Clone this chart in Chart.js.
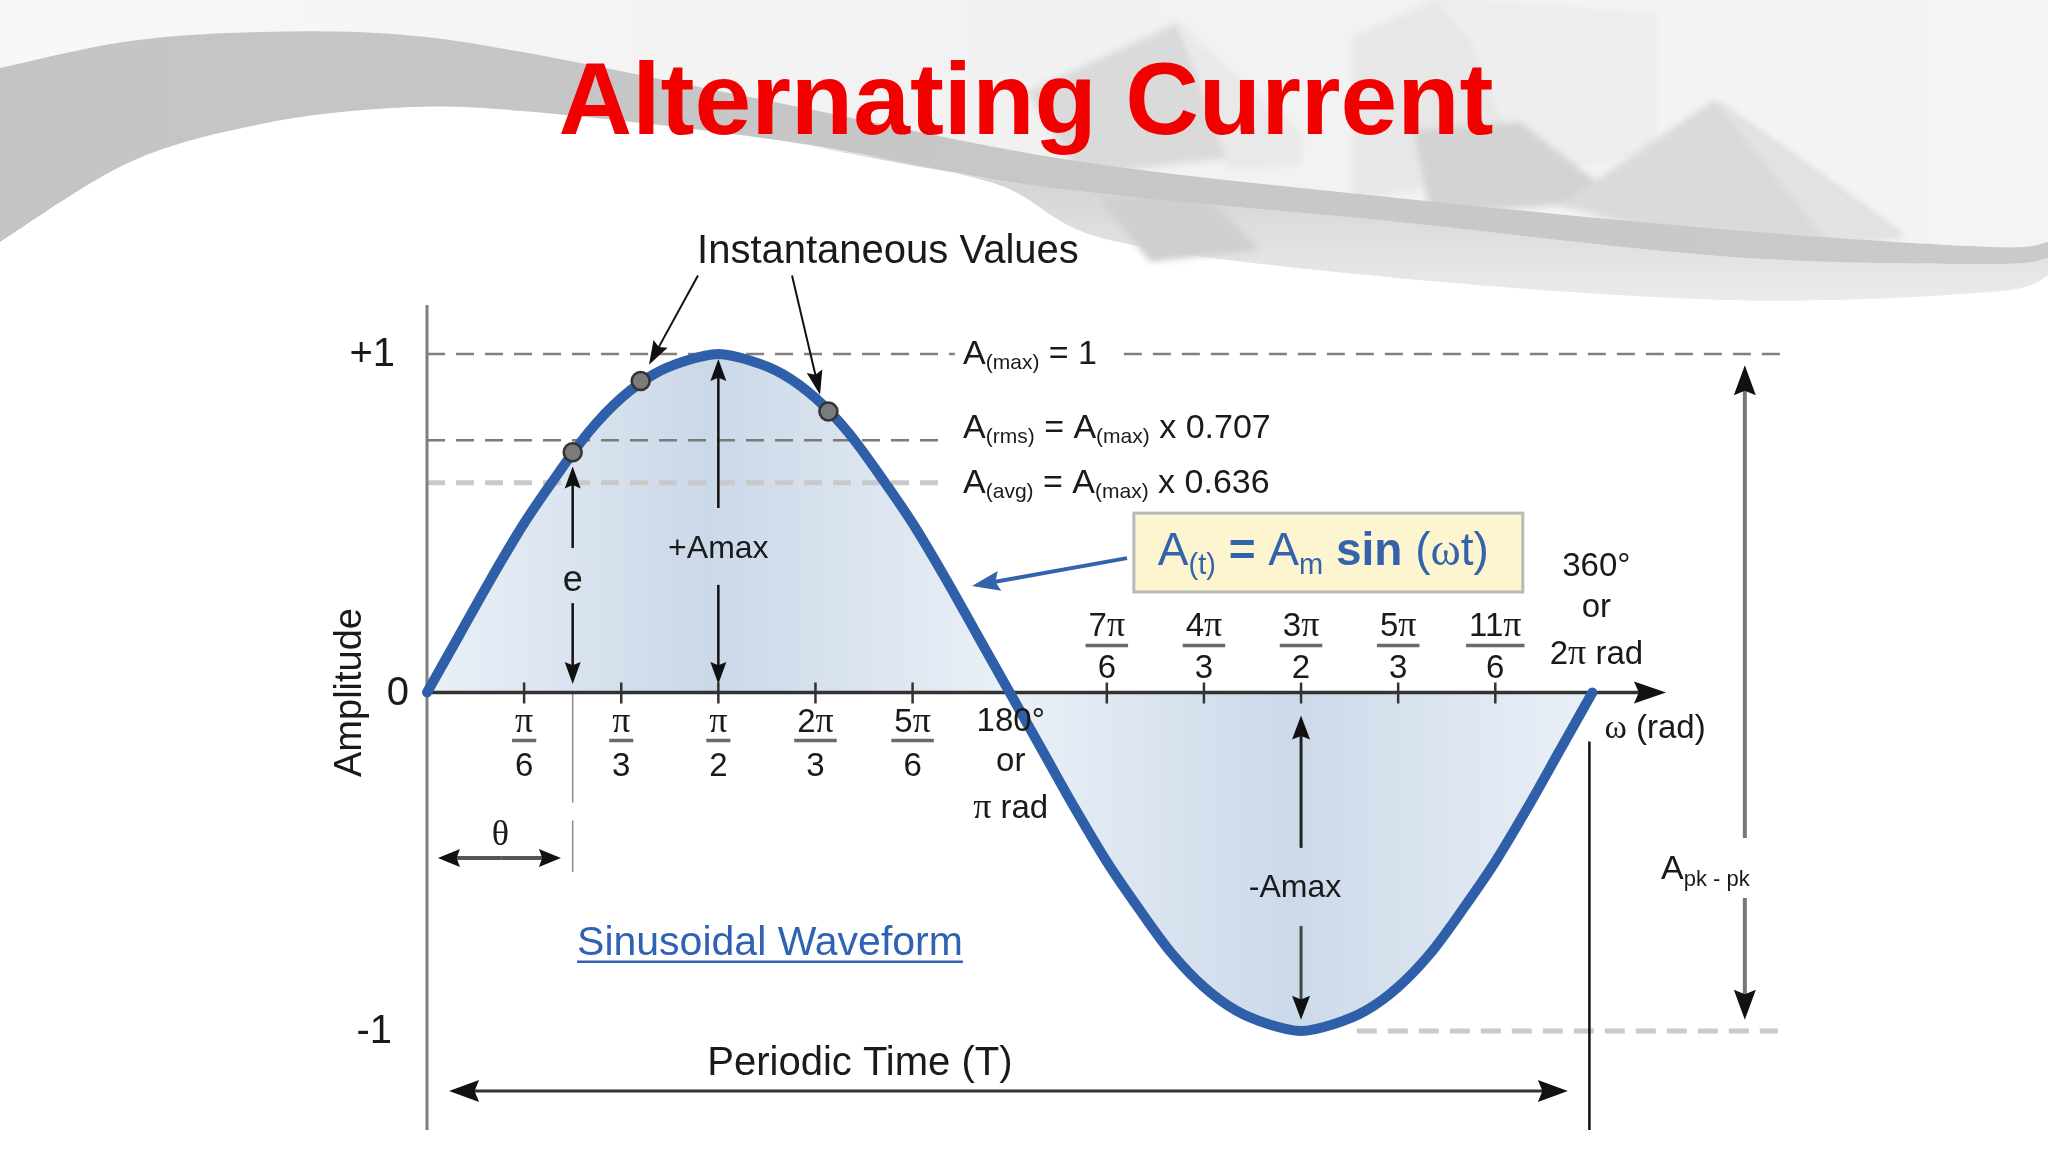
<!DOCTYPE html>
<html>
<head>
<meta charset="utf-8">
<script src="https://cdn.jsdelivr.net/npm/chart.js@4.4.1/dist/chart.umd.min.js"></script>
<style>
html,body{margin:0;padding:0;background:#fff;}
#wrap{width:2048px;height:1152px;position:relative;}
</style>
</head>
<body>
<div id="wrap"><canvas id="c" width="2048" height="1152"></canvas></div>
<script>
// ---------- data ----------
const angleDeg = [0,10,20,30,40,50,60,70,80,90,100,110,120,130,140,150,160,170,180,190,200,210,220,230,240,250,260,270,280,290,300,310,320,330,340,350,360];
const amplitude = [0,0.17,0.34,0.5,0.64,0.77,0.87,0.94,0.98,1,0.98,0.94,0.87,0.77,0.64,0.5,0.34,0.17,0,-0.17,-0.34,-0.5,-0.64,-0.77,-0.87,-0.94,-0.98,-1,-0.98,-0.94,-0.87,-0.77,-0.64,-0.5,-0.34,-0.17,0];
const instantDeg = [45, 66, 124];
const instantAmp = [0.71, 0.92, 0.83];
const refLevels = [1, 0.745, 0.62];          // A(max), A(rms), A(avg) guide lines
const tickSixths = [1,2,3,4,5,7,8,9,10,11];  // tick positions in multiples of pi/6
const tickNum = ['π','π','π','2π','5π','7π','4π','3π','5π','11π'];
const tickDen = ['6','3','2','3','6','6','3','2','3','6'];
const yTickValues = [1, 0, -1];
const yTickLabels = ['+1', '0', '-1'];
const titleText = 'Alternating Current';

// ---------- helpers ----------
const SANS = '"Liberation Sans", Arial, sans-serif';
const SERIF = '"Liberation Serif", "Times New Roman", serif';
const rad = d => d * Math.PI / 180;
function fnt(p){ return (p.b ? 'bold ' : '') + p.s + 'px ' + (p.f || SANS); }
function richWidth(ctx, parts){ let w = 0; for (const p of parts){ ctx.font = fnt(p); w += ctx.measureText(p.t).width; } return w; }
function drawRich(ctx, x, y, parts, color, align){
  const w = richWidth(ctx, parts);
  let cx = align === 'center' ? x - w/2 : (align === 'right' ? x - w : x);
  ctx.fillStyle = color; ctx.textAlign = 'left'; ctx.textBaseline = 'alphabetic';
  for (const p of parts){ ctx.font = fnt(p); ctx.fillText(p.t, cx, y + (p.dy || 0)); cx += ctx.measureText(p.t).width; }
  return w;
}
function arrow(ctx, x1, y1, x2, y2, o){
  const a = Math.atan2(y2 - y1, x2 - x1), hl = o.hl || 20, hw = o.hw || 8;
  const c = Math.cos(a), s = Math.sin(a);
  ctx.save();
  ctx.setLineDash([]);
  ctx.strokeStyle = o.color; ctx.lineWidth = o.lw || 2; ctx.lineCap = 'butt';
  ctx.beginPath(); ctx.moveTo(x1, y1); ctx.lineTo(x2 - c*hl*0.7, y2 - s*hl*0.7); ctx.stroke();
  ctx.fillStyle = o.head || o.color;
  ctx.beginPath(); ctx.moveTo(x2, y2);
  ctx.lineTo(x2 - c*hl - s*hw, y2 - s*hl + c*hw);
  ctx.lineTo(x2 - c*hl*0.85, y2 - s*hl*0.85);
  ctx.lineTo(x2 - c*hl + s*hw, y2 - s*hl - c*hw);
  ctx.closePath(); ctx.fill();
  ctx.restore();
}
function dashed(ctx, x1, y1, x2, y2, color, lw, dash){
  ctx.save(); ctx.strokeStyle = color; ctx.lineWidth = lw; ctx.setLineDash(dash);
  ctx.beginPath(); ctx.moveTo(x1, y1); ctx.lineTo(x2, y2); ctx.stroke(); ctx.restore();
}
function smooth(ctx, pts, move){
  if (move) ctx.moveTo(pts[0][0], pts[0][1]); else ctx.lineTo(pts[0][0], pts[0][1]);
  for (let i = 0; i < pts.length - 1; i++){
    const p0 = pts[Math.max(i-1,0)], p1 = pts[i], p2 = pts[i+1], p3 = pts[Math.min(i+2, pts.length-1)];
    ctx.bezierCurveTo(p1[0]+(p2[0]-p0[0])/6, p1[1]+(p2[1]-p0[1])/6, p2[0]-(p3[0]-p1[0])/6, p2[1]-(p3[1]-p1[1])/6, p2[0], p2[1]);
  }
}

// ---------- background (slide artwork) ----------
const backgroundPlugin = {
  id: 'slideBg',
  beforeDraw(chart){
    const ctx = chart.ctx;
    ctx.save();
    ctx.fillStyle = '#ffffff'; ctx.fillRect(0, 0, 2048, 1152);
    const white = [[0,242],[130,162],[261,124],[392,108],[522,111],[784,141],[990,182],[1110,240],[1388,277],[1732,300],[1990,292],[2048,276]];
    const lower = [[0,242],[130,162],[261,124],[392,108],[522,111],[784,141],[1045,187],[1388,221],[1732,257],[1990,264],[2048,258]];
    const upper = [[0,68],[130,41],[261,32],[392,34],[522,52],[784,104],[1070,160],[1388,197],[1732,230],[1990,247],[2048,242]];
    // light upper region (down to the white boundary)
    const g = ctx.createLinearGradient(0, 0, 2048, 0);
    g.addColorStop(0, '#f8f8f8'); g.addColorStop(0.5, '#f1f1f1'); g.addColorStop(1, '#f4f4f4');
    ctx.beginPath(); ctx.moveTo(0,0); ctx.lineTo(2048,0);
    smooth(ctx, white.slice().reverse(), false); ctx.closePath();
    ctx.fillStyle = g; ctx.fill();
    // lighter grey zone below band (right side)
    const gz = ctx.createLinearGradient(0, 190, 0, 300);
    gz.addColorStop(0, '#d6d6d6'); gz.addColorStop(1, '#ebebeb');
    ctx.beginPath(); smooth(ctx, lower.slice(5), true); smooth(ctx, white.slice(5).reverse(), false); ctx.closePath();
    ctx.fillStyle = gz; ctx.fill();
    // soft 3D shapes
    ctx.filter = 'blur(3px)';
    const poly = (pts, col) => { ctx.beginPath(); ctx.moveTo(pts[0][0], pts[0][1]); for (const p of pts.slice(1)) ctx.lineTo(p[0], p[1]); ctx.closePath(); ctx.fillStyle = col; ctx.fill(); };
    poly([[1027,92],[1177,23],[1230,110],[1300,150],[1080,175]], '#dadada');
    poly([[1177,23],[1302,133],[1300,165],[1230,170]], '#e9e9e9');
    poly([[1353,37],[1435,0],[1654,17],[1654,150],[1353,200]], '#e7e7e7');
    poly([[1435,0],[1654,17],[1654,150],[1520,170],[1470,40]], '#eeeeee');
    poly([[1414,130],[1520,122],[1620,200],[1430,215]], '#d3d3d3');
    poly([[1560,205],[1714,100],[1800,160],[1904,236],[1700,245]], '#dadada');
    poly([[1714,100],[1800,160],[1904,236],[1830,245]], '#e2e2e2');
    poly([[1100,200],[1200,190],[1260,250],[1150,262]], '#cfcfcf');
    ctx.filter = 'none';
    // grey swoosh band
    const gb = ctx.createLinearGradient(0, 0, 2048, 0);
    gb.addColorStop(0, '#c4c4c4'); gb.addColorStop(0.5, '#c7c7c7'); gb.addColorStop(1, '#cacaca');
    ctx.beginPath(); smooth(ctx, upper, true); smooth(ctx, lower.slice().reverse(), false); ctx.closePath();
    ctx.fillStyle = gb; ctx.fill();
    // title
    ctx.font = 'bold 102px ' + SANS;
    ctx.fillStyle = '#f20000'; ctx.textAlign = 'center'; ctx.textBaseline = 'alphabetic';
    ctx.fillText(titleText, 1026, 134);
    ctx.restore();
  }
};

// ---------- axes / guides drawn under the curve line ----------
const guidePlugin = {
  id: 'guides',
  beforeDatasetDraw(chart, args){
    if (args.index !== 1) return;
    const ctx = chart.ctx, xs = chart.scales.x, ys = chart.scales.y;
    const X = v => xs.getPixelForValue(v), Y = v => ys.getPixelForValue(v);
    ctx.save();
    dashed(ctx, X(0), Y(refLevels[0]), X(2.846), Y(refLevels[0]), '#808080', 2.5, [18, 11]);
    dashed(ctx, X(3.757), Y(refLevels[0]), X(7.32), Y(refLevels[0]), '#808080', 2.5, [18, 11]);
    dashed(ctx, X(0), Y(refLevels[1]), X(2.81), Y(refLevels[1]), '#7a7a7a', 2.5, [18, 11]);
    dashed(ctx, X(0), Y(refLevels[2]), X(2.78), Y(refLevels[2]), '#c9c9c9', 5, [18, 11]);
    dashed(ctx, X(5.013), Y(-1), X(7.283), Y(-1), '#cacaca', 5, [20, 11]);
    dashed(ctx, X(rad(instantDeg[0])), Y(0), X(rad(instantDeg[0])), Y(-0.53), '#8a8a8a', 1.5, [110, 18]);
    ctx.strokeStyle = '#7f7f7f'; ctx.lineWidth = 3;
    ctx.beginPath(); ctx.moveTo(X(0), chart.chartArea.top); ctx.lineTo(X(0), chart.chartArea.bottom); ctx.stroke();
    arrow(ctx, X(0), Y(0), chart.chartArea.right, Y(0), {color:'#333333', lw:3.5, hl:32, hw:11, head:'#111'});
    ctx.strokeStyle = '#333'; ctx.lineWidth = 2.5;
    tickSixths.forEach(k => { const x = X(k*Math.PI/6); ctx.beginPath(); ctx.moveTo(x, Y(0)-10); ctx.lineTo(x, Y(0)+11); ctx.stroke(); });
    ctx.restore();
  }
};

// ---------- annotations on top ----------
const annotPlugin = {
  id: 'annot',
  afterDatasetsDraw(chart){
    const ctx = chart.ctx, xs = chart.scales.x, ys = chart.scales.y;
    const X = v => xs.getPixelForValue(v), Y = v => ys.getPixelForValue(v);
    const y0 = Y(0);
    ctx.save();
    const ink = '#1a1a1a';
    const yOff = [32, 18, 35];
    yTickValues.forEach((v, i) => drawRich(ctx, X(0) - yOff[i], Y(v) + 12, [{t:yTickLabels[i], s:40}], ink, 'right'));
    ctx.save(); ctx.translate(X(0) - 76, y0); ctx.rotate(-Math.PI/2);
    ctx.font = '38px ' + SANS; ctx.fillStyle = ink; ctx.textAlign = 'center'; ctx.textBaseline = 'middle';
    ctx.fillText('Amplitude', 0, 0); ctx.restore();
    tickSixths.forEach((k, i) => {
      const x = X(k*Math.PI/6);
      const num = tickNum[i], coef = num.replace('π', '');
      const parts = [{t:coef, s:33}, {t:'π', s:36, f:SERIF}];
      const below = k < 6;
      const nb = below ? y0 + 39 : y0 - 57, bar = below ? y0 + 48 : y0 - 47, db = below ? y0 + 83 : y0 - 15;
      const w = drawRich(ctx, x, nb, parts, ink, 'center');
      ctx.strokeStyle = '#6a6a6a'; ctx.lineWidth = 3.5;
      ctx.beginPath(); ctx.moveTo(x - w/2 - 3, bar); ctx.lineTo(x + w/2 + 3, bar); ctx.stroke();
      drawRich(ctx, x, db, [{t:tickDen[i], s:33}], ink, 'center');
    });
    const xp = X(Math.PI) + 1, x2p = X(2*Math.PI);
    drawRich(ctx, xp, y0 + 38, [{t:'180°', s:33}], ink, 'center');
    drawRich(ctx, xp, y0 + 78, [{t:'or', s:33}], ink, 'center');
    drawRich(ctx, xp, y0 + 125, [{t:'π', s:36, f:SERIF}, {t:' rad', s:33}], ink, 'center');
    drawRich(ctx, x2p + 4, y0 - 117, [{t:'360°', s:33}], ink, 'center');
    drawRich(ctx, x2p + 4, y0 - 76, [{t:'or', s:33}], ink, 'center');
    drawRich(ctx, x2p + 4, y0 - 29, [{t:'2', s:33}, {t:'π', s:36, f:SERIF}, {t:' rad', s:33}], ink, 'center');
    drawRich(ctx, x2p + 12, y0 + 45, [{t:'ω', s:34, f:SERIF}, {t:' (rad)', s:33}], ink, 'left');
    ctx.strokeStyle = '#111'; ctx.lineWidth = 2.5;
    ctx.beginPath(); ctx.moveTo(x2p - 3, y0 + 49); ctx.lineTo(x2p - 3, chart.chartArea.bottom); ctx.stroke();

    const lx = X(2.89);
    drawRich(ctx, lx, Y(refLevels[0]) + 9.5, [{t:'A', s:34}, {t:'(max)', s:21, dy:5}, {t:' = 1', s:34}], ink, 'left');
    drawRich(ctx, lx, Y(refLevels[1]) - 2.5, [{t:'A', s:34}, {t:'(rms)', s:21, dy:5}, {t:' = A', s:34}, {t:'(max)', s:21, dy:5}, {t:' x 0.707', s:34}], ink, 'left');
    drawRich(ctx, lx, Y(refLevels[2]) + 10, [{t:'A', s:34}, {t:'(avg)', s:21, dy:5}, {t:' = A', s:34}, {t:'(max)', s:21, dy:5}, {t:' x 0.636', s:34}], ink, 'left');

    drawRich(ctx, X(2.485), Y(1.269), [{t:'Instantaneous Values', s:40}], ink, 'center');
    arrow(ctx, X(1.461), Y(1.232), X(1.197), Y(0.968), {color:'#111', lw:2, hl:24, hw:8});
    arrow(ctx, X(1.968), Y(1.232), X(2.119), Y(0.880), {color:'#111', lw:2, hl:24, hw:8});

    const xe = X(rad(instantDeg[0]));
    arrow(ctx, xe, Y(0.427), xe, Y(0.668), {color:'#111', lw:2.5, hl:22, hw:8});
    arrow(ctx, xe, Y(0.264), xe, Y(0.025), {color:'#111', lw:2.5, hl:22, hw:8});
    drawRich(ctx, xe, Y(0.30), [{t:'e', s:36}], ink, 'center');
    const xa = X(Math.PI/2);
    arrow(ctx, xa, Y(0.545), xa, Y(0.985), {color:'#111', lw:2.5, hl:22, hw:8});
    arrow(ctx, xa, Y(0.318), xa, Y(0.025), {color:'#111', lw:2.5, hl:22, hw:8});
    drawRich(ctx, xa, Y(0.397), [{t:'+Amax', s:32}], ink, 'center');
    const xb = X(3*Math.PI/2);
    arrow(ctx, xb, Y(-0.459), xb, Y(-0.068), {color:'#222', lw:3, hl:24, hw:9, head:'#111'});
    arrow(ctx, xb, Y(-0.690), xb, Y(-0.967), {color:'#444', lw:3, hl:24, hw:9, head:'#111'});
    drawRich(ctx, xb - 6, Y(-0.604), [{t:'-Amax', s:32}], ink, 'center');
    const xk = X(7.105);
    arrow(ctx, xk, Y(-0.430), xk, Y(0.967), {color:'#777', lw:4, hl:30, hw:11, head:'#111'});
    arrow(ctx, xk, Y(-0.607), xk, Y(-0.967), {color:'#777', lw:4, hl:30, hw:11, head:'#111'});
    drawRich(ctx, X(6.653), Y(-0.55), [{t:'A', s:34}, {t:'pk - pk', s:22, dy:7}], ink, 'left');
    arrow(ctx, X(0.40), Y(-0.489), X(0.059), Y(-0.489), {color:'#555', lw:4, hl:22, hw:9, head:'#111'});
    arrow(ctx, X(0.40), Y(-0.489), X(0.722), Y(-0.489), {color:'#555', lw:4, hl:22, hw:9, head:'#111'});
    drawRich(ctx, X(0.395), Y(-0.451), [{t:'θ', s:36, f:SERIF}], ink, 'center');
    arrow(ctx, X(3.1), Y(-1.177), X(0.119), Y(-1.177), {color:'#333', lw:3, hl:30, hw:11, head:'#111'});
    arrow(ctx, X(3.1), Y(-1.177), X(6.151), Y(-1.177), {color:'#333', lw:3, hl:30, hw:11, head:'#111'});
    drawRich(ctx, X(2.334), Y(-1.131), [{t:'Periodic Time (T)', s:40}], ink, 'center');
    const sx = X(0.809), sy = Y(-0.775);
    const sw = drawRich(ctx, sx, sy, [{t:'Sinusoidal Waveform', s:41}], '#2f62b3', 'left');
    ctx.strokeStyle = '#2f62b3'; ctx.lineWidth = 2.5;
    ctx.beginPath(); ctx.moveTo(sx, sy + 7); ctx.lineTo(sx + sw, sy + 7); ctx.stroke();
    const bx1 = X(3.811), bx2 = X(5.908), by1 = Y(0.530), by2 = Y(0.297);
    ctx.fillStyle = '#fdf5cf'; ctx.fillRect(bx1, by1, bx2 - bx1, by2 - by1);
    ctx.strokeStyle = '#b9b9b9'; ctx.lineWidth = 3; ctx.strokeRect(bx1, by1, bx2 - bx1, by2 - by1);
    const blue = '#3463ad';
    drawRich(ctx, bx1 + 24, by1 + 52, [{t:'A', s:46}, {t:'(t)', s:29, dy:9}, {t:' = ', s:46, b:true}, {t:'A', s:46}, {t:'m', s:29, dy:9}, {t:' sin ', s:46, b:true}, {t:'(', s:46}, {t:'ω', s:46, f:SERIF}, {t:'t)', s:46}], blue, 'left');
    arrow(ctx, X(3.774), Y(0.397), X(2.938), Y(0.315), {color:blue, lw:4, hl:28, hw:10});
    ctx.restore();
  }
};

// ---------- chart ----------
const curvePts = angleDeg.map((d, i) => ({x: rad(d), y: amplitude[i]}));
const instantPts = instantDeg.map((d, i) => ({x: rad(d), y: instantAmp[i]}));

const ctx = document.getElementById('c').getContext('2d');
new Chart(ctx, {
  type: 'line',
  data: {
    datasets: [
      {
        data: curvePts, fill: 'origin', borderWidth: 0, pointRadius: 0, order: 3,
        cubicInterpolationMode: 'monotone', clip: false,
        backgroundColor: (c) => {
          const ch = c.chart; const a = ch.chartArea; if (!a) return '#dde6f1';
          const xs = ch.scales.x;
          const g = ch.ctx.createLinearGradient(xs.getPixelForValue(0), 0, xs.getPixelForValue(2*Math.PI), 0);
          g.addColorStop(0, '#eaf0f7'); g.addColorStop(0.24, '#cbd8e8'); g.addColorStop(0.5, '#eaf0f7');
          g.addColorStop(0.74, '#ccd9e9'); g.addColorStop(1, '#eaf0f7');
          return g;
        }
      },
      {
        data: curvePts, fill: false, borderColor: '#2f5fa8', borderWidth: 10, pointRadius: 0, order: 2,
        cubicInterpolationMode: 'monotone', borderCapStyle: 'round', borderJoinStyle: 'round', clip: false
      },
      {
        data: instantPts, showLine: false, pointRadius: 9, pointBackgroundColor: '#7b7b7b',
        pointBorderColor: '#333', pointBorderWidth: 2.5, order: 1, clip: false
      }
    ]
  },
  options: {
    responsive: false, animation: false, devicePixelRatio: 1,
    layout: { padding: { left: 427, right: 382, top: 305, bottom: 22 } },
    plugins: { legend: { display: false }, tooltip: { enabled: false }, title: { display: false } },
    scales: {
      x: { type: 'linear', min: 0, max: 6.68, display: false },
      y: { type: 'linear', min: -1.2925, max: 1.1448, display: false }
    },
    events: []
  },
  plugins: [backgroundPlugin, guidePlugin, annotPlugin]
});
</script>
</body>
</html>
